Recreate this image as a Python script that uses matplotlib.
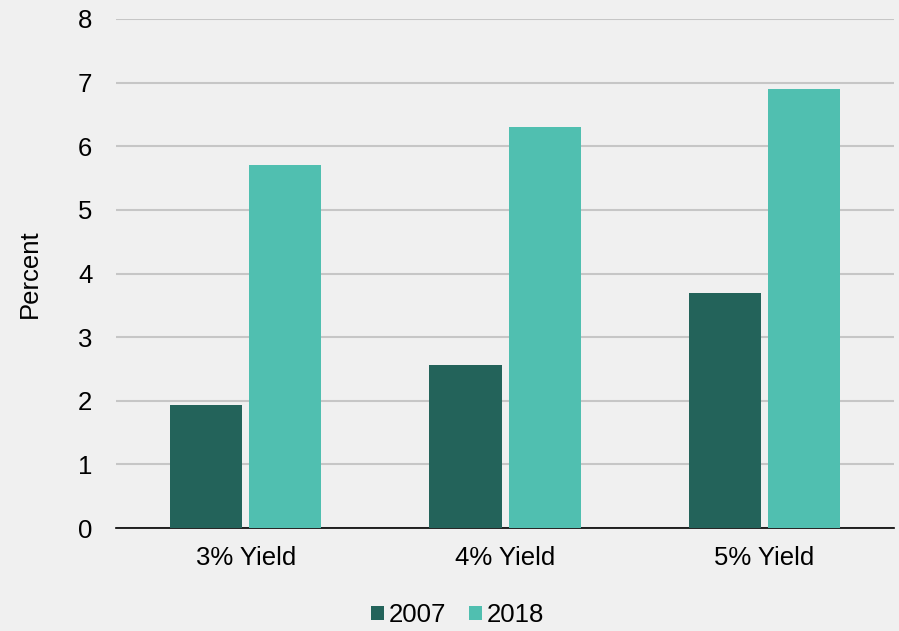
import numpy as np
import matplotlib.pyplot as plt

categories = ["3% Yield", "4% Yield", "5% Yield"]
vals_2007 = [1.93, 2.56, 3.7]
vals_2018 = [5.7, 6.3, 6.9]
series = ["2007", "2018"]
colors = ["#23635a", "#50bfb0"]

plt.rcParams['font.family'] = ['Liberation Sans', 'DejaVu Sans']
fs = 18.5

fig = plt.figure(figsize=(8.99, 6.31), dpi=100, facecolor='#f0f0f0')
ax = fig.add_axes([0.129, 0.163, 0.8655, 0.807])
ax.set_facecolor('#f0f0f0')

x = np.arange(len(categories))
w = 0.278
gap = 0.027
ax.bar(x - (w + gap) / 2, vals_2007, w, color=colors[0], label=series[0], zorder=3)
ax.bar(x + (w + gap) / 2, vals_2018, w, color=colors[1], label=series[1], zorder=3)

ax.set_xlim(-0.5, 2.5)
ax.set_ylim(0, 8)
ax.set_yticks(range(0, 9))
ax.yaxis.grid(True, color='#c6c6c6', linewidth=1.5, zorder=0)
ax.set_axisbelow(True)
for s in ['top', 'right', 'left']:
    ax.spines[s].set_visible(False)
ax.spines['bottom'].set_color('black')
ax.spines['bottom'].set_linewidth(1.2)
ax.tick_params(axis='both', length=0, labelsize=fs, colors='black')
ax.tick_params(axis='y', pad=17)
ax.tick_params(axis='x', pad=13)
ax.set_xticks(x)
ax.set_xticklabels(categories)
ax.set_ylabel("Percent", fontsize=fs, labelpad=26)

# legend sits centred on the figure, not the axes
fig.legend(loc='center', bbox_to_anchor=(0.509, 0.025), ncol=2, frameon=False,
           fontsize=fs, handlelength=0.5, handleheight=0.5, handletextpad=0.2,
           columnspacing=0.9)

fig.savefig("out.png", dpi=100, facecolor=fig.get_facecolor())
